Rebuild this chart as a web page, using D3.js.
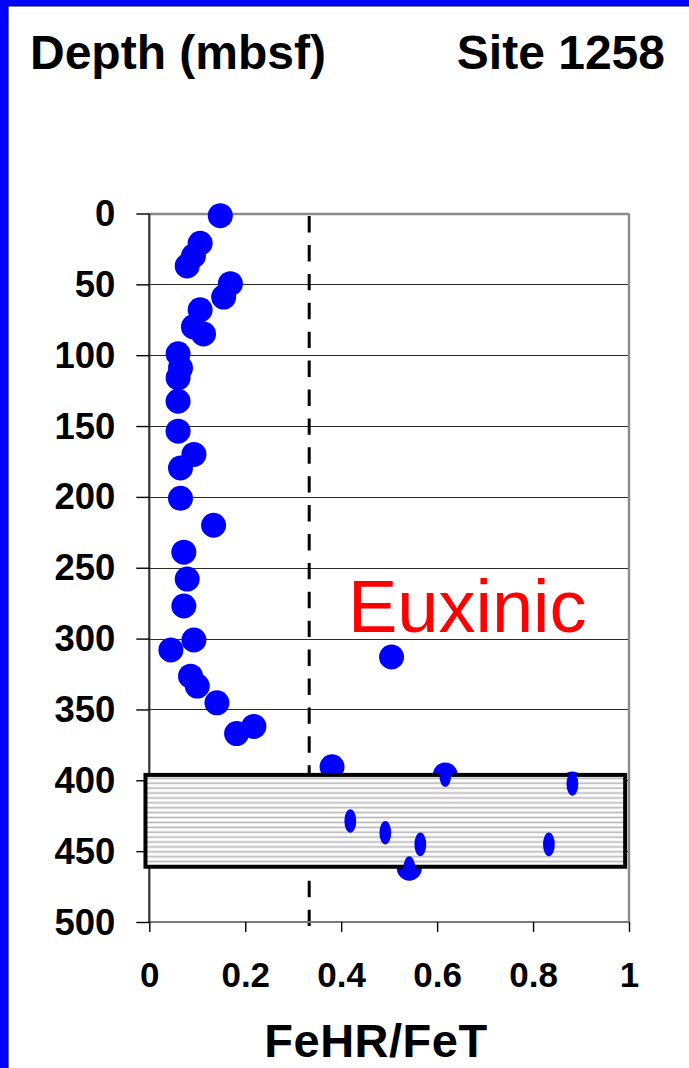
<!DOCTYPE html>
<html>
<head>
<meta charset="utf-8">
<script src="https://cdn.jsdelivr.net/npm/d3@7"></script>
<style>
  html, body { margin: 0; padding: 0; background: #fff; }
  svg { display: block; }
  text { font-family: "Liberation Sans", Arial, Helvetica, sans-serif; }
</style>
</head>
<body>
<svg id="chart" width="689" height="1068"></svg>
<script>
// FeHR/FeT ratio against depth (mbsf), Site 1258
const feRatio = [0.148, 0.106, 0.092, 0.079, 0.169, 0.155, 0.106, 0.092, 0.113, 0.060,
                 0.065, 0.060, 0.060, 0.060, 0.093, 0.065, 0.065, 0.134, 0.072, 0.079,
                 0.072, 0.093, 0.045, 0.086, 0.100, 0.141, 0.218, 0.182, 0.505, 0.381,
                 0.617, 0.882, 0.419, 0.492, 0.565, 0.833, 0.542];
const depth   = [1.5, 21, 30, 37, 49.5, 59, 68, 80, 85, 99,
                 109, 116, 132.5, 153.6, 170, 179.6, 201, 220, 239, 258,
                 277, 301, 308, 326.5, 333.5, 345.3, 362, 367, 313, 390.5,
                 396.3, 402.6, 428.7, 437, 445.2, 445.2, 462];

const xTicks = [0, 0.2, 0.4, 0.6, 0.8, 1];
const xTickLabels = ["0", "0.2", "0.4", "0.6", "0.8", "1"];
const depthTicks = [0, 50, 100, 150, 200, 250, 300, 350, 400, 450, 500];
const depthTickLabels = ["0", "50", "100", "150", "200", "250", "300", "350", "400", "450", "500"];

const euxinicThreshold = 1 / 3;      // FeHR/FeT boundary
const boxDepthRange = [396.2, 461];  // shaded interval (mbsf)
const boxRatioRange = [-0.008, 0.992];

const points = feRatio.map((v, i) => ({ v, d: depth[i] }));

const svg = d3.select("#chart");
const W = 689, H = 1068;

svg.append("rect").attr("width", W).attr("height", H).attr("fill", "#fff");

// slide frame (blue edge on top and left)
svg.append("rect").attr("x", 0).attr("y", 0).attr("width", W).attr("height", 6).attr("fill", "#0000ff");
svg.append("rect").attr("x", 0).attr("y", 0).attr("width", 8).attr("height", H).attr("fill", "#0000ff");
svg.append("line").attr("x1", 7.9).attr("x2", 7.9).attr("y1", 5.5).attr("y2", H)
  .attr("stroke", "#000030").attr("stroke-width", 1.4);
svg.append("line").attr("x1", 7.9).attr("x2", W).attr("y1", 5.9).attr("y2", 5.9)
  .attr("stroke", "#000030").attr("stroke-width", 1.4);

const x = d3.scaleLinear().domain([0, 1]).range([149.3, 629]);
const y = d3.scaleLinear().domain([0, 500]).range([213.5, 922]);

// hatch pattern for the shaded interval
const defs = svg.append("defs");
const pat = defs.append("pattern").attr("id", "hatch")
  .attr("patternUnits", "userSpaceOnUse").attr("width", 10).attr("height", 4.9)
  .attr("y", y(boxDepthRange[0]) + 1);
pat.append("rect").attr("width", 10).attr("height", 4.9).attr("fill", "#fff");
pat.append("line").attr("x1", 0).attr("x2", 10).attr("y1", 2.4).attr("y2", 2.4)
  .attr("stroke", "#b4b4b4").attr("stroke-width", 1.6);

// horizontal gridlines
svg.append("g").selectAll("line")
  .data(depthTicks.filter(t => t > 0 && t < 500))
  .join("line")
  .attr("x1", x(0)).attr("x2", x(1))
  .attr("y1", d => Math.round(y(d)) + 0.5).attr("y2", d => Math.round(y(d)) + 0.5)
  .attr("stroke", "#2a2a2a").attr("stroke-width", 1.1);

// euxinic threshold
svg.append("line")
  .attr("x1", x(euxinicThreshold)).attr("x2", x(euxinicThreshold))
  .attr("y1", y(0)).attr("y2", y(500) + 6)
  .attr("stroke", "#000").attr("stroke-width", 3)
  .attr("stroke-dasharray", "16.4,12.5").attr("stroke-dashoffset", -2.6);

// plot frame
svg.append("line").attr("x1", x(0)).attr("x2", x(1)).attr("y1", y(0) + 0.5).attr("y2", y(0) + 0.5)
  .attr("stroke", "#8a8a8a").attr("stroke-width", 2.6);
svg.append("line").attr("x1", x(1)).attr("x2", x(1)).attr("y1", y(0)).attr("y2", y(500))
  .attr("stroke", "#8a8a8a").attr("stroke-width", 2.4);
svg.append("line").attr("x1", x(0)).attr("x2", x(1)).attr("y1", y(500)).attr("y2", y(500))
  .attr("stroke", "#7a7a7a").attr("stroke-width", 2.2);
svg.append("line").attr("x1", x(0)).attr("x2", x(0)).attr("y1", y(0)).attr("y2", y(500))
  .attr("stroke", "#333").attr("stroke-width", 2.2);

// depth axis
const yAxis = svg.append("g").attr("transform", `translate(${x(0)},0)`)
  .call(d3.axisLeft(y).tickValues(depthTicks)
    .tickFormat((d, i) => depthTickLabels[i]).tickSize(13).tickPadding(21));
yAxis.select(".domain").remove();
yAxis.selectAll(".tick line").attr("stroke", "#000").attr("stroke-width", 1.4);
yAxis.selectAll(".tick text")
  .attr("font-family", "'Liberation Sans', Arial, sans-serif")
  .attr("font-size", 36.5).attr("font-weight", "bold").attr("fill", "#000").attr("dy", "0.33em");

// ratio axis
const xAxis = svg.append("g").attr("transform", `translate(0,${y(500)})`)
  .call(d3.axisBottom(x).tickValues(xTicks)
    .tickFormat((d, i) => xTickLabels[i]).tickSize(10).tickPadding(30));
xAxis.select(".domain").remove();
xAxis.selectAll(".tick line").attr("stroke", "#000").attr("stroke-width", 1.4);
xAxis.selectAll(".tick text")
  .attr("font-family", "'Liberation Sans', Arial, sans-serif")
  .attr("font-size", 35).attr("font-weight", "bold").attr("fill", "#000");

// data points
svg.append("g").selectAll("circle")
  .data(points)
  .join("circle")
  .attr("cx", p => x(p.v)).attr("cy", p => y(p.d)).attr("r", 12.5)
  .attr("fill", "#0000ff");

// shaded interval box
svg.append("rect")
  .attr("x", x(boxRatioRange[0])).attr("y", y(boxDepthRange[0]))
  .attr("width", x(boxRatioRange[1]) - x(boxRatioRange[0]))
  .attr("height", y(boxDepthRange[1]) - y(boxDepthRange[0]))
  .attr("fill", "url(#hatch)").attr("stroke", "#000").attr("stroke-width", 4);

// points inside the interval, drawn over the box
svg.append("g").selectAll("ellipse")
  .data(points.filter(p => p.d >= boxDepthRange[0]))
  .join("ellipse")
  .attr("cx", p => x(p.v)).attr("cy", p => y(p.d)).attr("rx", 5.9).attr("ry", 11.8)
  .attr("fill", "#0000ff");

// labels
svg.append("text").attr("x", 30).attr("y", 69)
  .attr("font-size", 48).attr("font-weight", "bold").attr("fill", "#000")
  .text("Depth (mbsf)");
svg.append("text").attr("x", 665).attr("y", 69).attr("text-anchor", "end")
  .attr("font-size", 48).attr("font-weight", "bold").attr("fill", "#000")
  .text("Site 1258");
svg.append("text").attr("x", 348).attr("y", 632)
  .attr("font-size", 74).attr("fill", "#ff0000")
  .text("Euxinic");
svg.append("text").attr("x", 376).attr("y", 1057).attr("text-anchor", "middle")
  .attr("font-size", 47).attr("font-weight", "bold").attr("fill", "#000")
  .attr("letter-spacing", 0.5)
  .text("FeHR/FeT");
</script>
</body>
</html>
